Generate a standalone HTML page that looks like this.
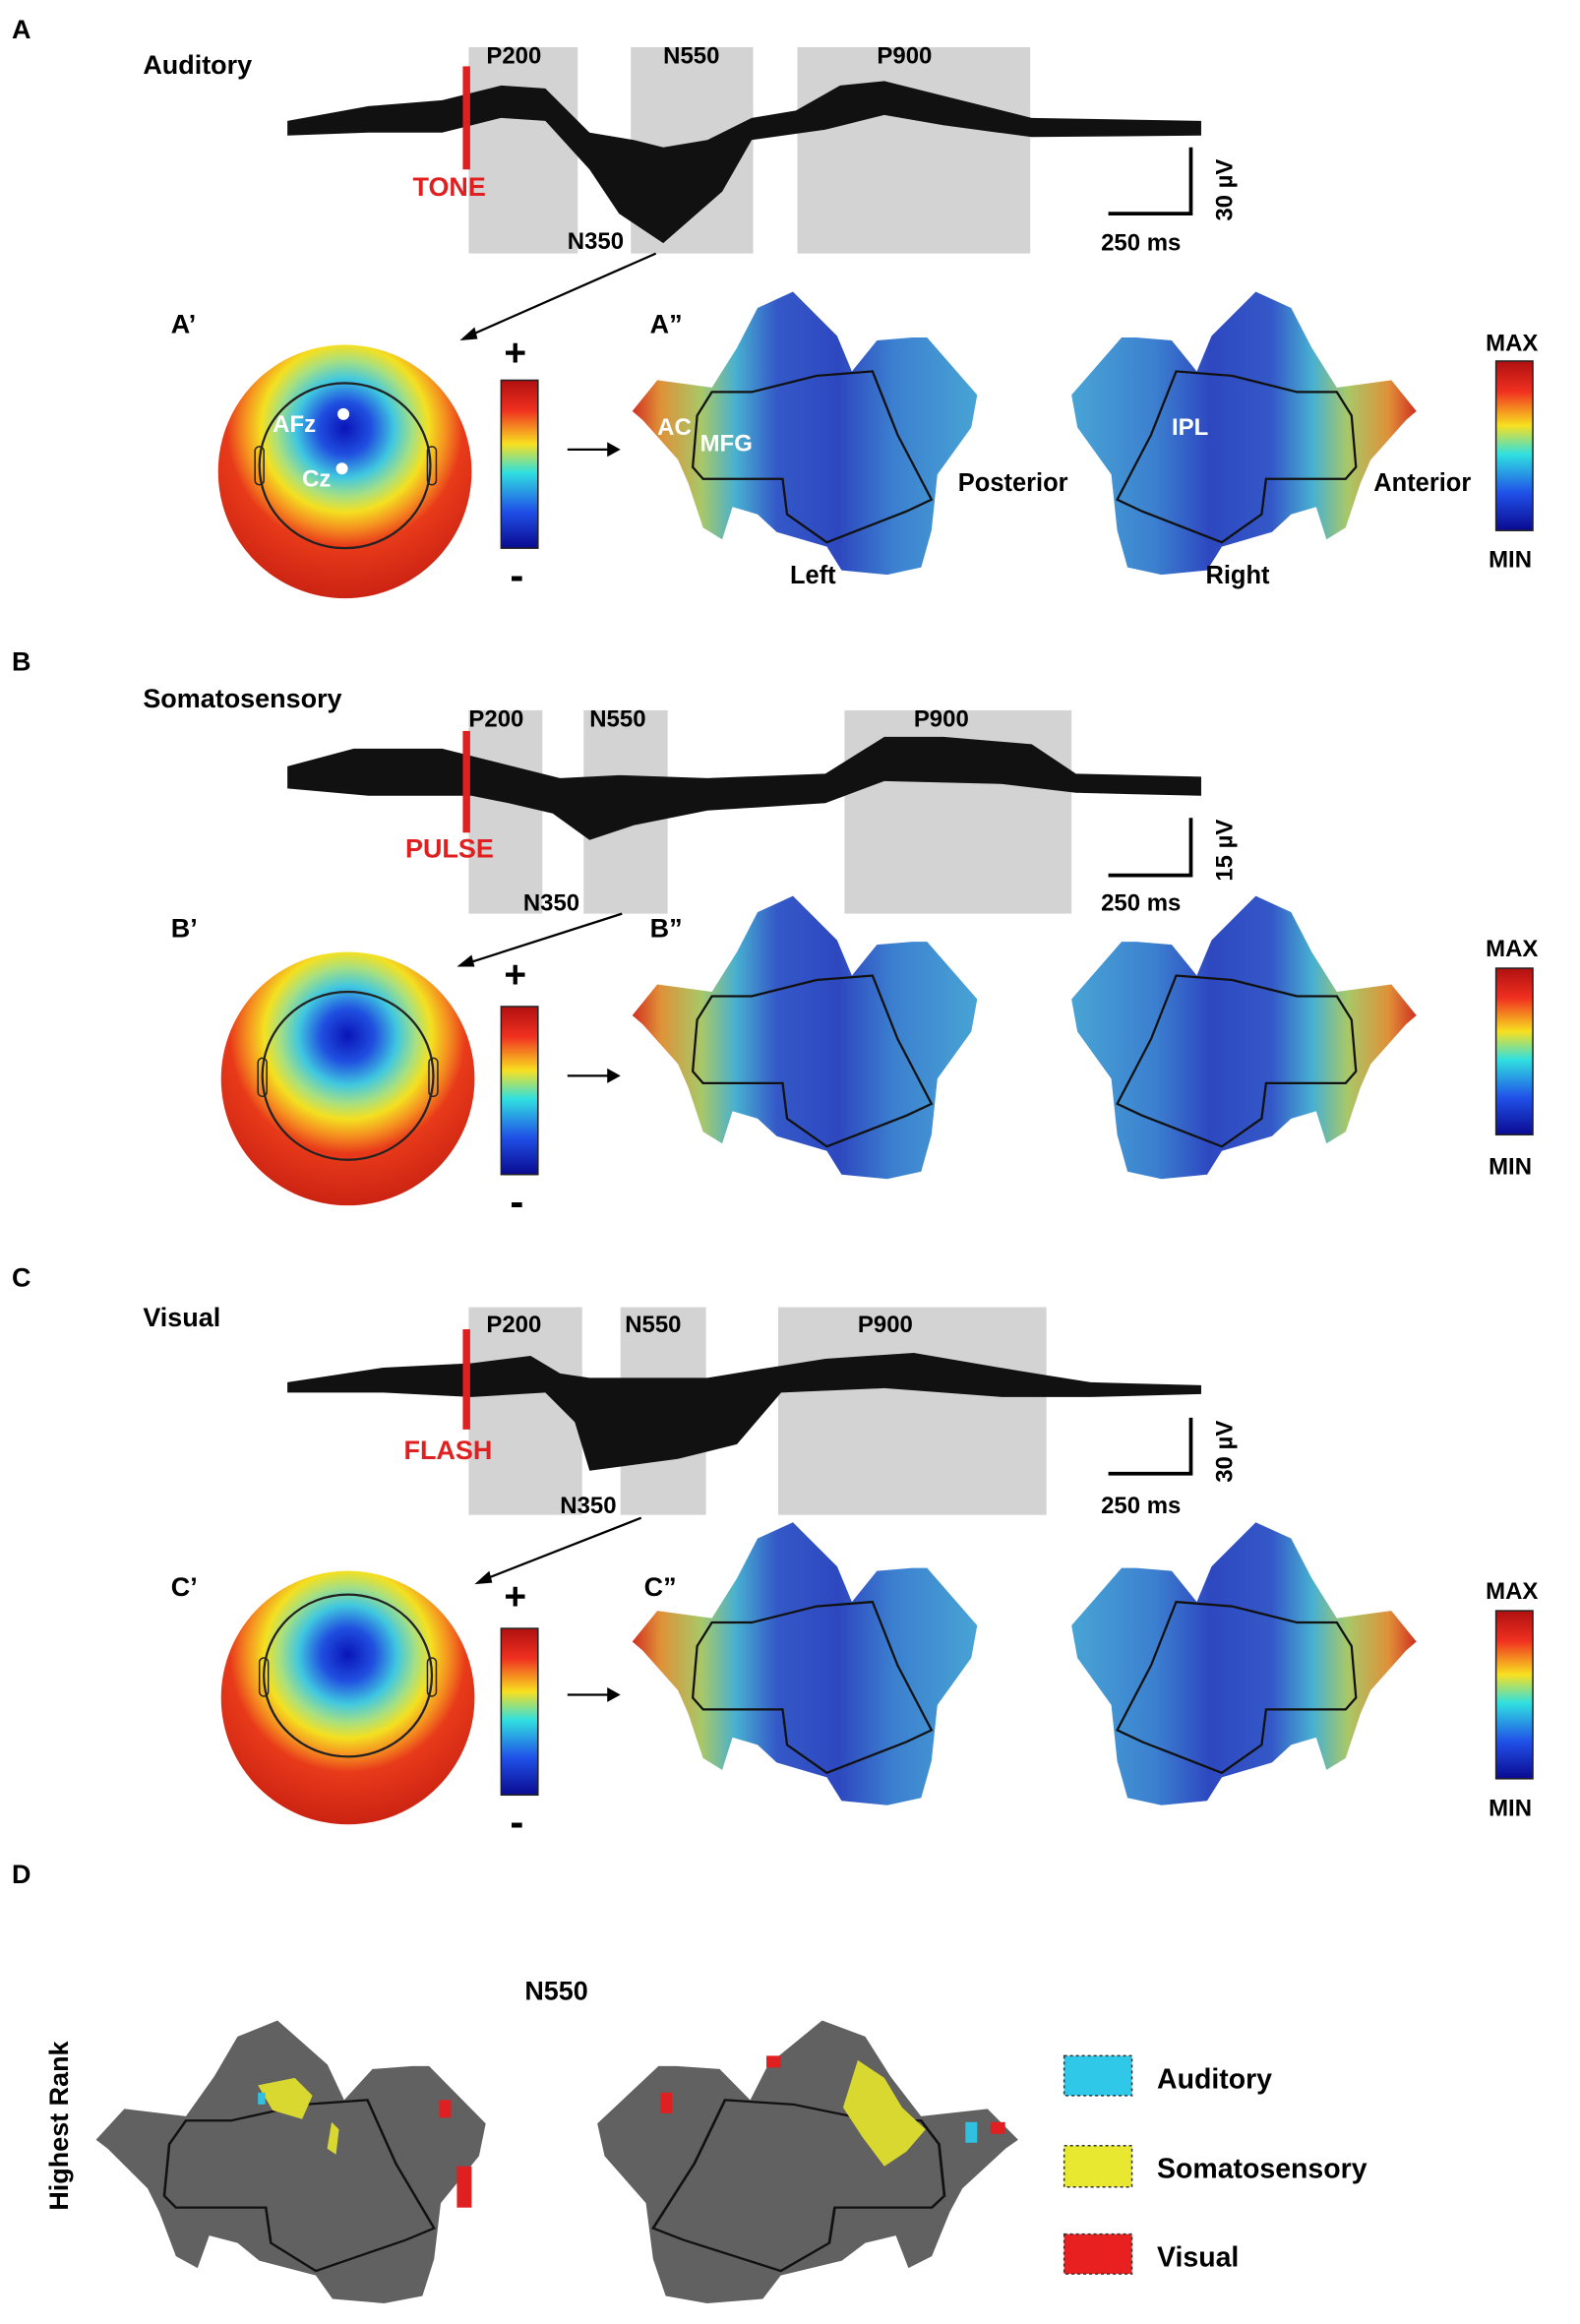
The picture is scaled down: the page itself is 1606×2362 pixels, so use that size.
<!DOCTYPE html>
<html><head><meta charset="utf-8"><style>
html,body{margin:0;padding:0;background:#fff}
svg{display:block}
text{font-family:"Liberation Sans",Arial,sans-serif;font-weight:bold}
</style></head><body>
<svg width="1606" height="2362" viewBox="0 0 1072 1577" preserveAspectRatio="none" xmlns="http://www.w3.org/2000/svg">
<defs>
<radialGradient id="head" cx="0.5" cy="0.33" r="0.75">
<stop offset="0" stop-color="#0a14b8"/><stop offset="0.14" stop-color="#2050e0"/><stop offset="0.26" stop-color="#40c8e0"/><stop offset="0.36" stop-color="#a8e080"/><stop offset="0.44" stop-color="#f4e020"/><stop offset="0.53" stop-color="#f59020"/><stop offset="0.62" stop-color="#e83a1a"/><stop offset="1" stop-color="#c01a10"/>
</radialGradient>
<linearGradient id="cbar" x1="0" y1="0" x2="0" y2="1">
<stop offset="0" stop-color="#b01010"/><stop offset="0.18" stop-color="#f03020"/><stop offset="0.38" stop-color="#f8e020"/><stop offset="0.55" stop-color="#30e0e0"/><stop offset="0.78" stop-color="#2050e8"/><stop offset="1" stop-color="#0a0a90"/>
</linearGradient>
<linearGradient id="brain" x1="0" y1="0" x2="1" y2="0">
<stop offset="0" stop-color="#d03020"/><stop offset="0.08" stop-color="#e09038"/><stop offset="0.2" stop-color="#a8c868"/><stop offset="0.3" stop-color="#48b0d0"/><stop offset="0.42" stop-color="#3458c8"/><stop offset="0.6" stop-color="#2e48c0"/><stop offset="0.76" stop-color="#3c80d0"/><stop offset="1" stop-color="#48a4d4"/>
</linearGradient>
<path id="bshape" d="M1 84 L18 63 L55 68 L72 41 L86 14 L110 3 L140 33 L150 57 L167 36 L191 34 L201 34 L235 73 L231 95 L208 127 L204 165 L197 190 L174 195 L143 192 L133 176 L99 166 L86 154 L69 149 L62 171 L49 163 L39 133 L32 117 L8 90 Z"/>
<path id="binner" d="M55 71 L82 71 L126 60 L164 57 L181 100 L204 144 L187 152 L133 173 L106 154 L103 130 L49 130 L42 122 L45 87 Z" fill="none" stroke="#111" stroke-width="1.5"/>
<g id="brainA"><use href="#bshape" fill="url(#brain)"/><use href="#binner"/></g>
<g id="brainD"><use href="#bshape" fill="#616161"/><use href="#binner"/></g>
</defs>
<rect width="1072" height="1577" fill="#fff"/>

<!-- ===== A ===== -->
<text x="8" y="26" font-size="18">A</text>
<text x="97" y="50" font-size="18">Auditory</text>
<rect x="318" y="32" width="74" height="140" fill="#d3d3d3"/>
<rect x="428" y="32" width="83" height="140" fill="#d3d3d3"/>
<rect x="541" y="32" width="158" height="140" fill="#d3d3d3"/>
<text x="330" y="43" font-size="16">P200</text><text x="450" y="43" font-size="16">N550</text><text x="595" y="43" font-size="16">P900</text>
<path d="M195 82 L250 72 L300 68 L340 58 L370 60 L400 90 L430 95 L450 100 L480 95 L510 80 L540 75 L570 58 L600 55 L640 65 L700 80 L815 82 L815 92 L700 93 L640 85 L600 78 L560 88 L510 95 L490 130 L450 165 L420 145 L400 115 L370 82 L340 80 L300 90 L250 90 L195 92 Z" fill="#111"/>
<rect x="314" y="45" width="5" height="70" fill="#e02020"/>
<text x="280" y="133" font-size="18" fill="#e02020">TONE</text>
<text x="385" y="169" font-size="16">N350</text>
<path d="M752 145 L808 145 L808 100" fill="none" stroke="#000" stroke-width="2.5"/>
<text x="747" y="170" font-size="16">250 ms</text>
<text transform="translate(836,150) rotate(-90)" font-size="16">30 µV</text>
<line x1="445" y1="172" x2="318" y2="228" stroke="#000" stroke-width="1.5"/><path d="M312 231 L322 222 L324 230 Z" fill="#000"/>
<text x="116" y="226" font-size="18">A’</text>
<circle cx="234" cy="320" r="86" fill="url(#head)"/>
<ellipse cx="234" cy="316" rx="58" ry="56" fill="none" stroke="#222" stroke-width="1.5"/>
<rect x="173" y="303" width="6" height="26" rx="3" fill="none" stroke="#222"/><rect x="290" y="303" width="6" height="26" rx="3" fill="none" stroke="#222"/>
<circle cx="233" cy="281" r="4" fill="#fff"/><circle cx="232" cy="318" r="4" fill="#fff"/>
<text x="185" y="293" font-size="16" fill="#fff">AFz</text><text x="205" y="330" font-size="16" fill="#fff">Cz</text>
<rect x="340" y="258" width="25" height="114" fill="url(#cbar)" stroke="#222"/>
<text x="342" y="248" font-size="26">+</text><text x="346" y="400" font-size="28">-</text>
<line x1="385" y1="305" x2="415" y2="305" stroke="#000" stroke-width="1.5"/><path d="M421 305 L412 300 L412 310 Z"/>
<text x="441" y="226" font-size="18">A”</text>
<use href="#brainA" transform="translate(428,195)"/>
<use href="#brainA" transform="translate(962,195) scale(-1,1)"/>
<text x="446" y="295" font-size="16" fill="#fff">AC</text><text x="475" y="306" font-size="16" fill="#fff">MFG</text><text x="795" y="295" font-size="16" fill="#fff">IPL</text>
<text x="650" y="333" font-size="17">Posterior</text><text x="932" y="333" font-size="17">Anterior</text>
<text x="536" y="396" font-size="17">Left</text><text x="818" y="396" font-size="17">Right</text>
<rect x="1015" y="245" width="25" height="115" fill="url(#cbar)" stroke="#222"/>
<text x="1008" y="238" font-size="16">MAX</text><text x="1010" y="385" font-size="16">MIN</text>

<!-- ===== B ===== -->
<text x="8" y="455" font-size="18">B</text>
<text x="97" y="480" font-size="18">Somatosensory</text>
<rect x="318" y="482" width="50" height="138" fill="#d3d3d3"/>
<rect x="396" y="482" width="57" height="138" fill="#d3d3d3"/>
<rect x="573" y="482" width="154" height="138" fill="#d3d3d3"/>
<text x="318" y="493" font-size="16">P200</text><text x="400" y="493" font-size="16">N550</text><text x="620" y="493" font-size="16">P900</text>
<path d="M195 520 L240 508 L300 508 L340 518 L380 528 L420 526 L480 528 L560 525 L600 500 L640 500 L700 505 L730 525 L815 527 L815 540 L730 538 L680 532 L600 530 L560 545 L480 550 L430 560 L400 570 L375 552 L345 545 L320 540 L250 540 L195 535 Z" fill="#111"/>
<rect x="314" y="496" width="5" height="69" fill="#e02020"/>
<text x="275" y="582" font-size="18" fill="#e02020">PULSE</text>
<text x="355" y="618" font-size="16">N350</text>
<path d="M752 594 L808 594 L808 555" fill="none" stroke="#000" stroke-width="2.5"/>
<text x="747" y="618" font-size="16">250 ms</text>
<text transform="translate(836,598) rotate(-90)" font-size="16">15 µV</text>
<line x1="422" y1="620" x2="316" y2="654" stroke="#000" stroke-width="1.5"/><path d="M310 656 L320 648 L322 656 Z"/>
<text x="116" y="636" font-size="18">B’</text>
<circle cx="236" cy="732" r="86" fill="url(#head)"/>
<ellipse cx="236" cy="730" rx="58" ry="57" fill="none" stroke="#222" stroke-width="1.5"/>
<rect x="175" y="718" width="6" height="26" rx="3" fill="none" stroke="#222"/><rect x="291" y="718" width="6" height="26" rx="3" fill="none" stroke="#222"/>
<rect x="340" y="683" width="25" height="114" fill="url(#cbar)" stroke="#222"/>
<text x="342" y="670" font-size="26">+</text><text x="346" y="825" font-size="28">-</text>
<line x1="385" y1="730" x2="415" y2="730" stroke="#000" stroke-width="1.5"/><path d="M421 730 L412 725 L412 735 Z"/>
<text x="441" y="636" font-size="18">B”</text>
<use href="#brainA" transform="translate(428,605)"/>
<use href="#brainA" transform="translate(962,605) scale(-1,1)"/>
<rect x="1015" y="657" width="25" height="113" fill="url(#cbar)" stroke="#222"/>
<text x="1008" y="649" font-size="16">MAX</text><text x="1010" y="797" font-size="16">MIN</text>

<!-- ===== C ===== -->
<text x="8" y="873" font-size="18">C</text>
<text x="97" y="900" font-size="18">Visual</text>
<rect x="318" y="887" width="77" height="141" fill="#d3d3d3"/>
<rect x="421" y="887" width="58" height="141" fill="#d3d3d3"/>
<rect x="528" y="887" width="182" height="141" fill="#d3d3d3"/>
<text x="330" y="904" font-size="16">P200</text><text x="424" y="904" font-size="16">N550</text><text x="582" y="904" font-size="16">P900</text>
<path d="M195 938 L260 928 L320 925 L360 920 L380 932 L400 935 L440 935 L480 935 L510 930 L560 922 L620 918 L690 930 L740 938 L815 940 L815 946 L740 948 L680 948 L600 942 L530 945 L500 980 L460 990 L400 998 L390 965 L370 945 L320 948 L260 945 L195 945 Z" fill="#111"/>
<rect x="314" y="902" width="5" height="68" fill="#e02020"/>
<text x="274" y="990" font-size="18" fill="#e02020">FLASH</text>
<text x="380" y="1027" font-size="16">N350</text>
<path d="M752 1000 L808 1000 L808 962" fill="none" stroke="#000" stroke-width="2.5"/>
<text x="747" y="1027" font-size="16">250 ms</text>
<text transform="translate(836,1006) rotate(-90)" font-size="16">30 µV</text>
<line x1="435" y1="1030" x2="328" y2="1072" stroke="#000" stroke-width="1.5"/><path d="M322 1075 L332 1066 L334 1074 Z"/>
<text x="116" y="1083" font-size="18">C’</text>
<circle cx="236" cy="1152" r="86" fill="url(#head)"/>
<ellipse cx="236" cy="1137" rx="57" ry="55" fill="none" stroke="#222" stroke-width="1.5"/>
<rect x="176" y="1125" width="6" height="26" rx="3" fill="none" stroke="#222"/><rect x="290" y="1125" width="6" height="26" rx="3" fill="none" stroke="#222"/>
<rect x="340" y="1105" width="25" height="113" fill="url(#cbar)" stroke="#222"/>
<text x="342" y="1092" font-size="26">+</text><text x="346" y="1246" font-size="28">-</text>
<line x1="385" y1="1150" x2="415" y2="1150" stroke="#000" stroke-width="1.5"/><path d="M421 1150 L412 1145 L412 1155 Z"/>
<text x="437" y="1083" font-size="18">C”</text>
<use href="#brainA" transform="translate(428,1030)"/>
<use href="#brainA" transform="translate(962,1030) scale(-1,1)"/>
<rect x="1015" y="1093" width="25" height="114" fill="url(#cbar)" stroke="#222"/>
<text x="1008" y="1085" font-size="16">MAX</text><text x="1010" y="1232" font-size="16">MIN</text>

<!-- ===== D ===== -->
<text x="8" y="1278" font-size="18">D</text>
<text x="356" y="1357" font-size="18">N550</text>
<text transform="translate(46,1500) rotate(-90)" font-size="18">Highest Rank</text>
<use href="#brainD" transform="translate(64,1368) scale(1.13,1)"/>
<use href="#brainD" transform="translate(692,1368) scale(-1.22,1)"/>
<path d="M175 1415 L200 1410 L212 1422 L205 1438 L185 1432 Z" fill="#d8d830"/>
<path d="M225 1440 L230 1445 L228 1462 L222 1458 Z" fill="#d8d830"/>
<path d="M582 1398 L600 1410 L612 1430 L628 1445 L615 1460 L600 1470 L585 1450 L572 1430 Z" fill="#d8d830"/>
<rect x="298" y="1425" width="8" height="12" fill="#e02020"/><rect x="310" y="1470" width="10" height="28" fill="#e02020"/>
<rect x="448" y="1420" width="8" height="14" fill="#e02020"/><rect x="520" y="1395" width="10" height="8" fill="#e02020"/><rect x="672" y="1440" width="10" height="8" fill="#e02020"/>
<rect x="655" y="1440" width="8" height="14" fill="#30c0e0"/><rect x="175" y="1420" width="5" height="8" fill="#30c0e0"/>
<rect x="722" y="1395" width="46" height="27" fill="#30c8e8" stroke="#333" stroke-dasharray="2 2"/>
<rect x="722" y="1456" width="46" height="28" fill="#e8e830" stroke="#333" stroke-dasharray="2 2"/>
<rect x="722" y="1516" width="46" height="27" fill="#e82020" stroke="#333" stroke-dasharray="2 2"/>
<text x="785" y="1417" font-size="19">Auditory</text>
<text x="785" y="1478" font-size="19">Somatosensory</text>
<text x="785" y="1538" font-size="19">Visual</text>
</svg>
</body></html>
